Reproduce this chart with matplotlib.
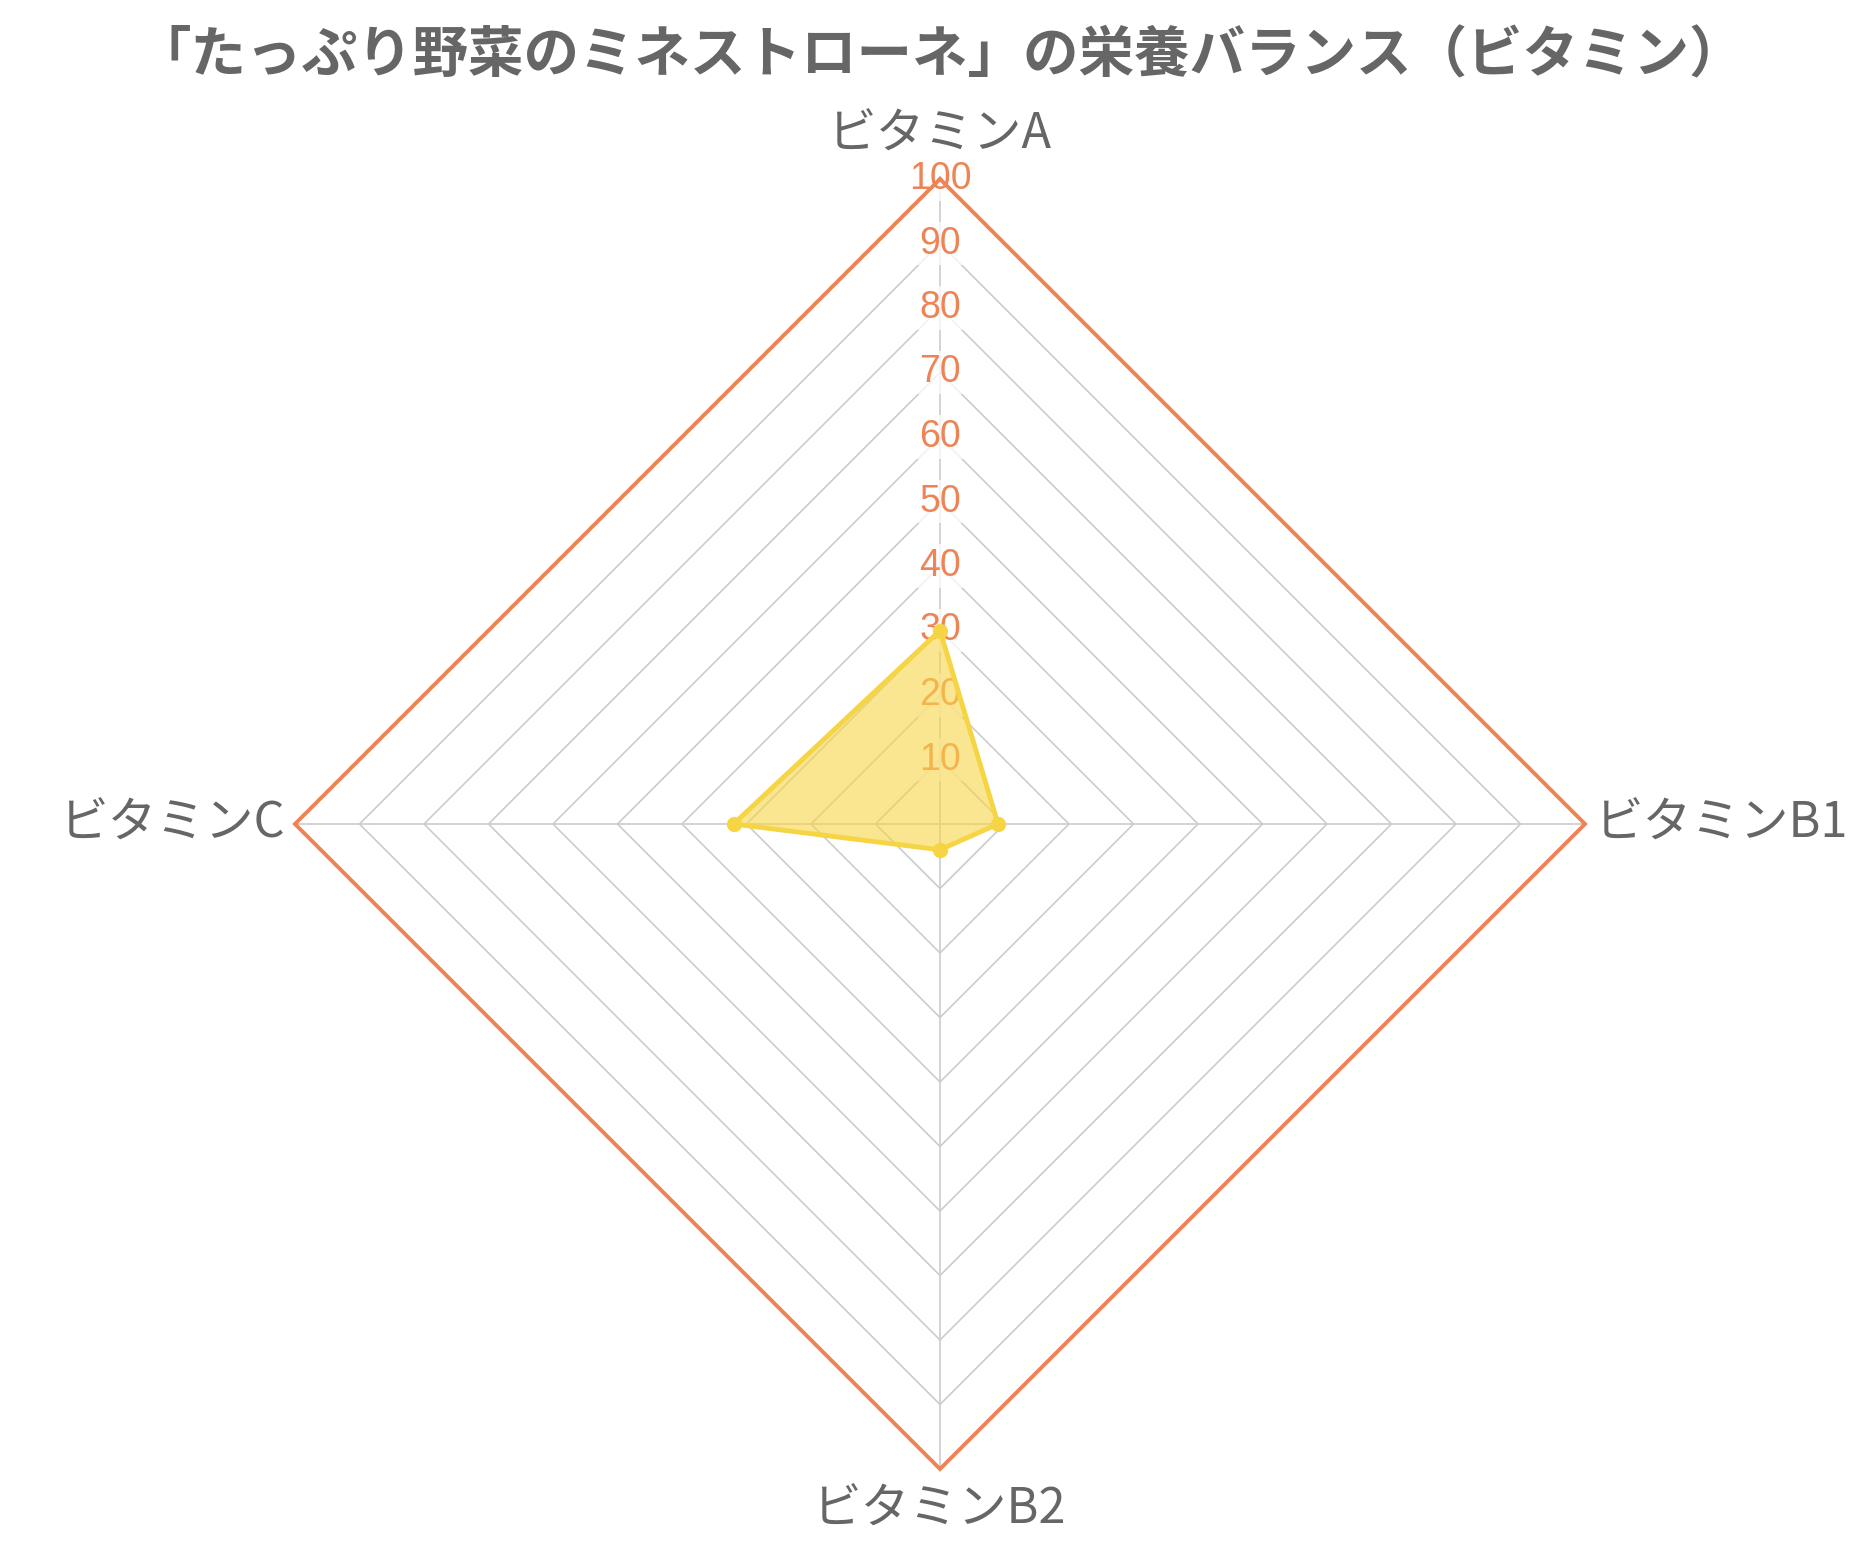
import matplotlib.pyplot as plt
import numpy as np

plt.rcParams['font.family'] = ['Noto Sans CJK JP', 'DejaVu Sans']

# Data
title = "「たっぷり野菜のミネストローネ」の栄養バランス（ビタミン）"
categories = ["ビタミンA", "ビタミンB1", "ビタミンB2", "ビタミンC"]
values = [30, 9, 4, 32]
ticks = [10, 20, 30, 40, 50, 60, 70, 80, 90, 100]
r_max = 100

text_color = "#666666"
grid_color = "#cccccc"
outer_color = "#ef8354"
tick_color = "#ee8455"
fill_color = "#f7d548"
line_color = "#f6d545"


def polar_xy(r, n):
    # clockwise from the top
    ang = np.pi / 2 - np.arange(n) * 2 * np.pi / n
    return r * np.cos(ang), r * np.sin(ang)


def main():
    fig = plt.figure(figsize=(18.7, 15.5), dpi=100)
    ax = fig.add_axes([0, 0, 1, 1])
    scale = 6.45  # px per unit
    cx, cy = 940, 824
    ax.set_xlim(-cx / scale, (1870 - cx) / scale)
    ax.set_ylim((cy - 1550) / scale, cy / scale)
    ax.axis("off")

    n = len(categories)

    # Rings
    for t in ticks:
        x, y = polar_xy(t, n)
        x = np.append(x, x[0])
        y = np.append(y, y[0])
        if t == r_max:
            ax.plot(x, y, color=outer_color, lw=2.8, zorder=3, solid_joinstyle="miter")
        else:
            ax.plot(x, y, color=grid_color, lw=1.2, zorder=1)

    # Spokes
    sx, sy = polar_xy(r_max, n)
    for i in range(n):
        ax.plot([0, sx[i]], [0, sy[i]], color=grid_color, lw=1.2, zorder=1)

    # Tick labels
    for t in ticks:
        ax.text(0, t, str(t), ha="center", va="center", fontsize=27,
                color=tick_color, family=["Liberation Sans", "DejaVu Sans"], zorder=2,
                bbox=dict(boxstyle="square,pad=0.1", fc="white", ec="none", alpha=0.75))

    # Category labels
    ax.text(0, 106.8, categories[0], ha="center", va="center", fontsize=35, color=text_color)
    ax.text(101.5, 0, categories[1], ha="left", va="center", fontsize=35, color=text_color)
    ax.text(0, -106.3, categories[2], ha="center", va="center", fontsize=35, color=text_color)
    ax.text(-101.5, 0, categories[3], ha="right", va="center", fontsize=35, color=text_color)

    # Data polygon
    vx, vy = polar_xy(np.array(values, dtype=float), n)
    ax.fill(vx, vy, color=fill_color, alpha=0.6, lw=0, zorder=4)
    ax.plot(np.append(vx, vx[0]), np.append(vy, vy[0]), color=line_color, lw=3.5,
            zorder=5, solid_joinstyle="round")
    ax.plot(vx, vy, "o", color=line_color, ms=10, zorder=6)

    fig.text(0.503, 1 - 56 / 1550, title, ha="center", va="center", fontsize=40,
             fontweight="bold", color=text_color)

    fig.savefig("out.png", dpi=100)


if __name__ == '__main__':
    main()
